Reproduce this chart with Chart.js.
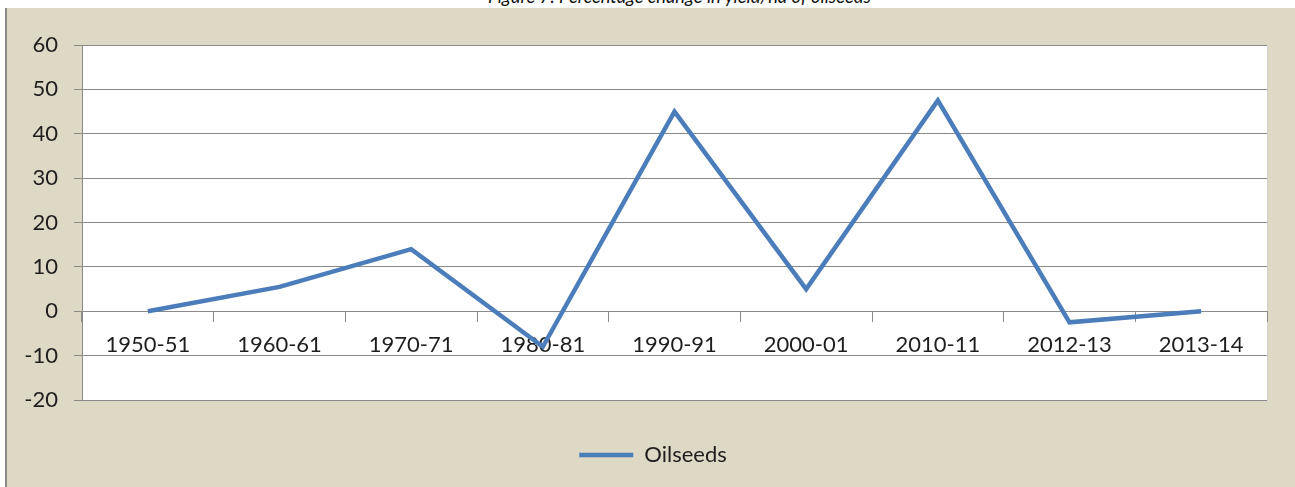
<!DOCTYPE html>
<html>
<head>
<meta charset="utf-8">
<script src="https://cdn.jsdelivr.net/npm/chart.js@4.4.1/dist/chart.umd.min.js"></script>
<style>
  html, body { margin: 0; padding: 0; background: #ffffff; }
  body { width: 1295px; height: 487px; position: relative; overflow: hidden; }
  #title {
    position: absolute; left: 488px; top: -14px; white-space: nowrap;
    font: italic 18.4px Lato, "Open Sans", sans-serif; color: #111111; line-height: 21px;
  }
  #frame {
    position: absolute; left: 5px; top: 8px; width: 1290px; height: 479px;
    background: #ddd9c4; border-left: 2px solid #8c8c8c; box-sizing: border-box;
  }
  #chart { position: absolute; left: 0; top: 0; }
</style>
</head>
<body>
<div id="title">Figure 7: Percentage change in yield/ha of oilseeds</div>
<div id="frame"><canvas id="chart" width="1288" height="479"></canvas></div>
<script>
// Crop years on the category axis
const years = ['1950-51', '1960-61', '1970-71', '1980-81', '1990-91', '2000-01', '2010-11', '2012-13', '2013-14'];
// Percentage change in yield per hectare
const oilseeds = [0, 5.5, 14, -8, 45, 5, 47.5, -2.5, 0];
const seriesName = 'Oilseeds';
// Value axis range
const yMin = -20, yMax = 60, yStep = 10;

const lineBlue = '#4a7dba';
const gridGrey = '#8a8a8a';
const textColor = '#1e1e1e';
const font = { family: 'Lato, "Open Sans", sans-serif', size: 22 };

// White plot area with a faint right edge
const plotBackground = {
  id: 'plotBackground',
  beforeDraw(chart) {
    const { ctx, chartArea: a } = chart;
    ctx.save();
    ctx.fillStyle = '#ffffff';
    ctx.fillRect(a.left, a.top, a.right - a.left, a.bottom - a.top);
    ctx.strokeStyle = '#cfcfcf';
    ctx.lineWidth = 1;
    ctx.beginPath();
    ctx.moveTo(a.right + 0.5, a.top);
    ctx.lineTo(a.right + 0.5, a.bottom + 1);
    ctx.stroke();
    ctx.restore();
  }
};

// Nudge the legend a little right of the canvas centre
const legendShift = {
  id: 'legendShift',
  afterLayout(chart) {
    if (chart.legend) { chart.legend.left += 16; chart.legend.right += 16; }
  }
};

new Chart(document.getElementById('chart'), {
  type: 'line',
  data: {
    labels: years,
    datasets: [{
      label: seriesName,
      data: oilseeds,
      borderColor: lineBlue,
      backgroundColor: lineBlue,
      borderWidth: 4.5,
      pointRadius: 0,
      pointHoverRadius: 0,
      tension: 0,
      fill: false
    }]
  },
  options: {
    responsive: false,
    devicePixelRatio: 1,
    animation: false,
    layout: { padding: { left: 0, right: 28, top: 37, bottom: 11 } },
    plugins: {
      title: { display: false },
      tooltip: { enabled: false },
      legend: {
        display: true,
        position: 'bottom',
        labels: {
          usePointStyle: true,
          pointStyle: 'line',
          pointStyleWidth: 54,
          padding: 44,
          color: textColor,
          font: font
        }
      }
    },
    scales: {
      x: {
        position: { y: 0 },
        offset: true,
        afterFit(scale) { scale.height = 0; },
        grid: {
          offset: true,
          drawOnChartArea: false,
          drawTicks: true,
          tickLength: 10,
          color: gridGrey,
          lineWidth: 1
        },
        border: { display: true, color: gridGrey, width: 1 },
        ticks: { color: textColor, font: font, padding: 10, maxRotation: 0, autoSkip: false }
      },
      y: {
        min: yMin,
        max: yMax,
        afterFit(scale) { scale.width = 75; },
        ticks: { stepSize: yStep, color: textColor, font: font, padding: 16 },
        grid: { color: gridGrey, lineWidth: 1, drawTicks: true, tickLength: 8 },
        border: { display: true, color: gridGrey, width: 1 }
      }
    }
  },
  plugins: [plotBackground, legendShift]
});
</script>
</body>
</html>
